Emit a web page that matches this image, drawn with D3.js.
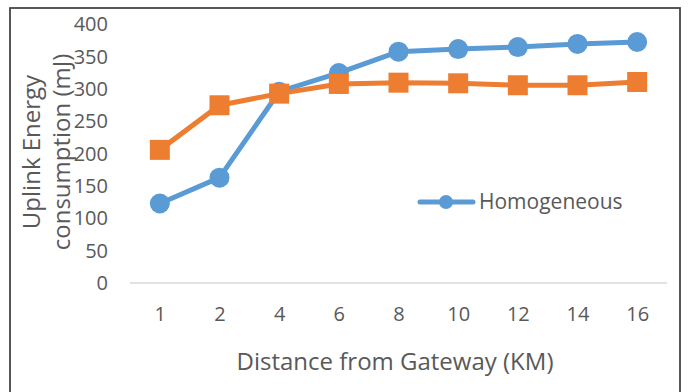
<!DOCTYPE html>
<html>
<head>
<meta charset="utf-8">
<script src="https://cdn.jsdelivr.net/npm/d3@7"></script>
<style>
  html, body { margin: 0; padding: 0; background: #fff; }
  svg { display: block; }
  text { font-family: "Open Sans", Carlito, Calibri, sans-serif; fill: #595959; }
</style>
</head>
<body>
<svg id="chart" width="690" height="392"></svg>
<script>
// Distance categories (km) and uplink energy per series (mJ)
const distances = ["1", "2", "4", "6", "8", "10", "12", "14", "16"];
const homogeneous = [123, 163, 296, 325, 358, 362, 365, 370, 373];
const heterogeneous = [206, 275, 293, 308, 310, 309, 306, 306, 311];
const yTicks = [0, 50, 100, 150, 200, 250, 300, 350, 400];
const legendLabel = "Homogeneous";
const xTitle = "Distance from Gateway (KM)";
const yTitleLines = ["Uplink Energy", "consumption (mJ)"];

const blue = "#5B9BD5";
const orange = "#ED7D31";
const font = "'Open Sans', Carlito, Calibri, sans-serif";

const svg = d3.select("#chart");

// chart area frame
svg.append("rect")
  .attr("x", 10).attr("y", 8)
  .attr("width", 670).attr("height", 400)
  .attr("fill", "#fff")
  .attr("stroke", "#404040")
  .attr("stroke-width", 1.75);

const x = d3.scalePoint()
  .domain(distances)
  .range([130, 667])
  .padding(0.5);

const y = d3.scaleLinear()
  .domain([0, 400])
  .range([283, 24.5]);

// value axis labels (no gridlines, just labels)
const yAxis = svg.append("g")
  .attr("transform", "translate(108,0)")
  .call(d3.axisLeft(y).tickValues(yTicks).tickSize(0).tickPadding(0));
yAxis.select(".domain").remove();
yAxis.selectAll("text")
  .attr("font-size", 20)
  .style("font-family", font)
  .attr("fill", "#595959");

// baseline
svg.append("line")
  .attr("x1", 130).attr("x2", 667)
  .attr("y1", y(0)).attr("y2", y(0))
  .attr("stroke", "#d9d9d9")
  .attr("stroke-width", 1.5);

// category axis labels
const xAxis = svg.append("g")
  .attr("transform", `translate(0,${y(0)})`)
  .call(d3.axisBottom(x).tickSize(0).tickPadding(24));
xAxis.select(".domain").remove();
xAxis.selectAll("text")
  .attr("font-size", 20)
  .style("font-family", font)
  .attr("fill", "#595959");

// axis titles
svg.append("text")
  .attr("x", 395).attr("y", 370)
  .attr("text-anchor", "middle")
  .attr("font-size", 24)
  .text(xTitle);

const yTitle = svg.append("text")
  .attr("transform", "translate(0,152) rotate(-90)")
  .attr("text-anchor", "middle")
  .attr("font-size", 24);
yTitleLines.forEach((t, i) => {
  yTitle.append("tspan")
    .attr("x", 0)
    .attr("y", 40 + i * 30)
    .text(t);
});

const line = d3.line()
  .x((d, i) => x(distances[i]))
  .y(d => y(d));

// Homogeneous series: line with circle markers
svg.append("path")
  .datum(homogeneous)
  .attr("d", line)
  .attr("fill", "none")
  .attr("stroke", blue)
  .attr("stroke-width", 5)
  .attr("stroke-linejoin", "round");
svg.append("g").selectAll("circle")
  .data(homogeneous)
  .join("circle")
  .attr("cx", (d, i) => x(distances[i]))
  .attr("cy", d => y(d))
  .attr("r", 10)
  .attr("fill", blue);

// second series: line with square markers
svg.append("path")
  .datum(heterogeneous)
  .attr("d", line)
  .attr("fill", "none")
  .attr("stroke", orange)
  .attr("stroke-width", 5)
  .attr("stroke-linejoin", "round");
svg.append("g").selectAll("rect")
  .data(heterogeneous)
  .join("rect")
  .attr("x", (d, i) => x(distances[i]) - 10)
  .attr("y", d => y(d) - 10)
  .attr("width", 20)
  .attr("height", 20)
  .attr("fill", orange);

// legend
const legend = svg.append("g");
legend.append("line")
  .attr("x1", 420).attr("x2", 473)
  .attr("y1", 202).attr("y2", 202)
  .attr("stroke", blue)
  .attr("stroke-width", 5)
  .attr("stroke-linecap", "round");
legend.append("circle")
  .attr("cx", 446).attr("cy", 202).attr("r", 7)
  .attr("fill", blue);
legend.append("text")
  .attr("x", 479).attr("y", 209)
  .attr("font-size", 21)
  .text(legendLabel);
</script>
</body>
</html>
